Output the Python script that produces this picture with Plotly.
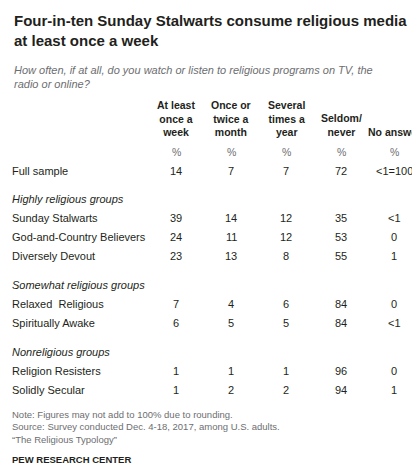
import plotly.graph_objects as go

columns = ["At least<br>once a<br>week", "Once or<br>twice a<br>month", "Several<br>times a<br>year", "Seldom/<br>never", "No answer"]
row_labels = ["Full sample", "Sunday Stalwarts", "God-and-Country Believers", "Diversely Devout",
              "Relaxed  Religious", "Spiritually Awake", "Religion Resisters", "Solidly Secular"]
weekly = ["14", "39", "24", "23", "7", "6", "1", "1"]
monthly = ["7", "14", "11", "13", "4", "5", "1", "2"]
yearly = ["7", "12", "12", "8", "6", "5", "1", "2"]
seldom = ["72", "35", "53", "55", "84", "84", "96", "94"]
no_answer = ["<1=100", "<1", "0", "1", "0", "<1", "0", "1"]
group_labels = ["Highly religious groups", "Somewhat religious groups", "Nonreligious groups"]

row_y = [163, 210, 229, 248, 296, 315, 363, 382]
group_y = [191, 277, 344]
col_x = [164, 219, 274, 329, 382]
F = "Liberation Sans"
TXT = "#231f20"

ann = []
def t(x, y, s, size=11, color=TXT, anchor="left", bold=False, italic=False, yanchor="middle"):
    if bold: s = "<b>" + s + "</b>"
    if italic: s = "<i>" + s + "</i>"
    ann.append(dict(x=x, y=y, xref="x", yref="y", text=s, showarrow=False, xanchor=anchor,
                    yanchor=yanchor, align=anchor if anchor != "middle" else "center",
                    font=dict(family=F, size=size, color=color)))

t(0, 22, "Four-in-ten Sunday Stalwarts consume religious media<br>at least once a week", size=15, bold=True)
t(0, 69, "How often, if at all, do you watch or listen to religious programs on TV, the<br>radio or online?", size=11, color="#6d6e71", italic=True)
for cx, c in zip(col_x, columns):
    t(cx, 132, c, size=10.5, anchor="center", bold=True, yanchor="bottom")
    t(cx, 144, "%", size=10.5, color="#6d6e71", anchor="center")
for y, lab in zip(row_y, row_labels):
    t(-2, y, lab, size=11)
for y, g in zip(group_y, group_labels):
    t(-2, y, g, size=11, italic=True)
for cx, vals in zip(col_x, [weekly, monthly, yearly, seldom, no_answer]):
    for y, v in zip(row_y, vals):
        t(cx, y, v, size=11, anchor="center")
t(-2, 419, "Note: Figures may not add to 100% due to rounding.<br>Source: Survey conducted Dec. 4-18, 2017, among U.S. adults.<br>\u201cThe Religious Typology\u201d",
  size=9.5, color="#6d6e71")
t(-2, 451, "<b>PEW RESEARCH CENTER</b>", size=9.5, color=TXT)

fig = go.Figure(go.Scatter(x=[0], y=[0], mode="markers", marker=dict(opacity=0), hoverinfo="skip"))
fig.update_layout(width=412, height=467, margin=dict(l=0, r=0, t=0, b=0),
                  paper_bgcolor="white", plot_bgcolor="white", showlegend=False,
                  xaxis=dict(range=[-4, 408], visible=False, fixedrange=True),
                  yaxis=dict(range=[467, 0], visible=False, fixedrange=True),
                  annotations=ann)
fig.write_html("out.html")
